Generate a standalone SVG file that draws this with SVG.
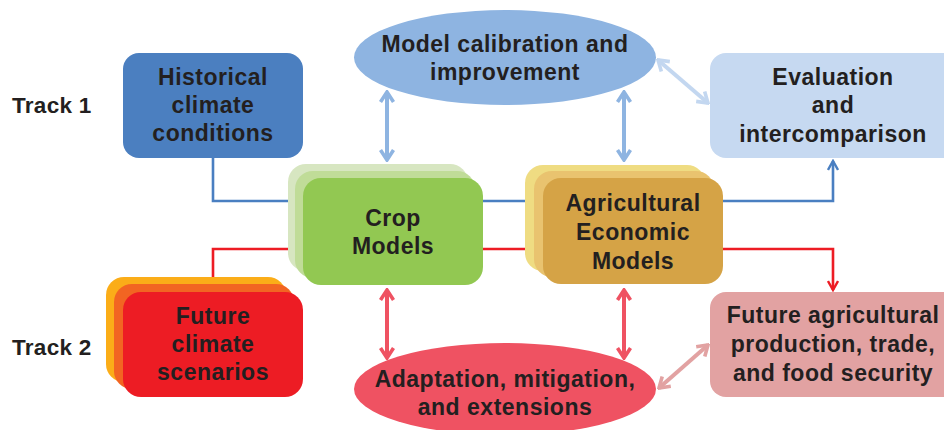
<svg xmlns="http://www.w3.org/2000/svg" width="944" height="430" viewBox="0 0 944 430">
<style>
text{font-family:"Liberation Sans",Arial,sans-serif;font-weight:bold;font-size:23px;letter-spacing:0.5px;fill:#231f20;text-anchor:middle}
.trk{text-anchor:start;font-size:22.5px;letter-spacing:0.3px}
.conn{fill:none;stroke-width:2.6}
.dbl{fill:none;stroke-width:4}
</style>
<defs>
<marker id="mBlue" viewBox="0 0 12 12" refX="10" refY="6" markerWidth="12" markerHeight="12" markerUnits="userSpaceOnUse" orient="auto-start-reverse"><path d="M1,1 L10,6 L1,11" fill="none" stroke="#4a7fc1" stroke-width="2.4"/></marker>
<marker id="mRed" viewBox="0 0 12 12" refX="10" refY="6" markerWidth="12" markerHeight="12" markerUnits="userSpaceOnUse" orient="auto-start-reverse"><path d="M1,1 L10,6 L1,11" fill="none" stroke="#ed1c24" stroke-width="2.4"/></marker>
<marker id="mLB" viewBox="0 0 14 16" refX="12" refY="8" markerWidth="14" markerHeight="16" markerUnits="userSpaceOnUse" orient="auto-start-reverse"><path d="M2,1.5 L12,8 L2,14.5" fill="none" stroke="#8eb4e1" stroke-width="3.6"/></marker>
<marker id="mLLB" viewBox="0 0 14 16" refX="12" refY="8" markerWidth="14" markerHeight="16" markerUnits="userSpaceOnUse" orient="auto-start-reverse"><path d="M2,1.5 L12,8 L2,14.5" fill="none" stroke="#c3d7f0" stroke-width="3.6"/></marker>
<marker id="mRd" viewBox="0 0 14 16" refX="12" refY="8" markerWidth="14" markerHeight="16" markerUnits="userSpaceOnUse" orient="auto-start-reverse"><path d="M2,1.5 L12,8 L2,14.5" fill="none" stroke="#ef5262" stroke-width="3.6"/></marker>
<marker id="mPk" viewBox="0 0 14 16" refX="12" refY="8" markerWidth="14" markerHeight="16" markerUnits="userSpaceOnUse" orient="auto-start-reverse"><path d="M2,1.5 L12,8 L2,14.5" fill="none" stroke="#e2a2a2" stroke-width="3.6"/></marker>
</defs>
<rect width="944" height="430" fill="#ffffff"/>

<g id="connectors">
<path class="conn" stroke="#4a7fc1" d="M213,158 V201 H300"/>
<path class="conn" stroke="#4a7fc1" d="M480,201 H530"/>
<path class="conn" stroke="#4a7fc1" d="M720,201 H833 V161" marker-end="url(#mBlue)"/>
<path class="conn" stroke="#ed1c24" d="M213,292 V249 H300"/>
<path class="conn" stroke="#ed1c24" d="M480,249 H530"/>
<path class="conn" stroke="#ed1c24" d="M720,249 H833 V290" marker-end="url(#mRed)"/>
<line class="dbl" stroke="#8eb4e1" x1="387" y1="92" x2="387" y2="160" marker-start="url(#mLB)" marker-end="url(#mLB)"/>
<line class="dbl" stroke="#8eb4e1" x1="624" y1="92" x2="624" y2="160" marker-start="url(#mLB)" marker-end="url(#mLB)"/>
<line class="dbl" stroke="#c3d7f0" x1="658" y1="60" x2="708" y2="103" marker-start="url(#mLLB)" marker-end="url(#mLLB)"/>
<line class="dbl" stroke="#ef5262" x1="387" y1="290" x2="387" y2="358" marker-start="url(#mRd)" marker-end="url(#mRd)"/>
<line class="dbl" stroke="#ef5262" x1="624" y1="290" x2="624" y2="358" marker-start="url(#mRd)" marker-end="url(#mRd)"/>
<line class="dbl" stroke="#e2a2a2" x1="659" y1="388" x2="708" y2="345" marker-start="url(#mPk)" marker-end="url(#mPk)"/>
</g>

<g id="track1"><text class="trk" x="12" y="113">Track 1</text></g>
<g id="track2"><text class="trk" x="12" y="355">Track 2</text></g>

<g id="historical">
<rect x="123" y="53" width="180" height="105" rx="16" fill="#4b7fc0"/>
<text x="213" y="85">Historical</text>
<text x="213" y="113">climate</text>
<text x="213" y="141">conditions</text>
</g>

<g id="calibration">
<ellipse cx="505" cy="57.5" rx="151" ry="47.5" fill="#8eb4e1"/>
<text x="505" y="52">Model calibration and</text>
<text x="505" y="80">improvement</text>
</g>

<g id="evaluation">
<rect x="710" y="53" width="250" height="105" rx="16" fill="#c6d9f1"/>
<text x="833" y="85">Evaluation</text>
<text x="833" y="113">and</text>
<text x="833" y="142">intercomparison</text>
</g>

<g id="crop">
<rect x="288" y="164" width="180" height="107" rx="18" fill="#d7e6c1"/>
<rect x="295" y="171" width="180" height="107" rx="18" fill="#c0dc98"/>
<rect x="303" y="178" width="180" height="107" rx="18" fill="#92c852"/>
<text x="393" y="226">Crop</text>
<text x="393" y="254">Models</text>
</g>

<g id="economic">
<rect x="525" y="165" width="180" height="106" rx="18" fill="#efdc82"/>
<rect x="534" y="171" width="180" height="106" rx="18" fill="#e9c36f"/>
<rect x="543" y="178" width="180" height="106" rx="18" fill="#d5a346"/>
<text x="633" y="211">Agricultural</text>
<text x="633" y="240">Economic</text>
<text x="633" y="269">Models</text>
</g>

<g id="future-climate">
<rect x="106" y="277" width="180" height="105" rx="18" fill="#fbad18"/>
<rect x="114" y="284" width="180" height="105" rx="18" fill="#f26522"/>
<rect x="123" y="292" width="180" height="105" rx="18" fill="#ed1c24"/>
<text x="213" y="324">Future</text>
<text x="213" y="352">climate</text>
<text x="213" y="380">scenarios</text>
</g>

<g id="adaptation">
<ellipse cx="505" cy="389" rx="151" ry="46" fill="#ef5262"/>
<text x="505" y="387">Adaptation, mitigation,</text>
<text x="505" y="415">and extensions</text>
</g>

<g id="future-ag">
<rect x="710" y="292" width="250" height="105" rx="16" fill="#e2a2a2"/>
<text x="833" y="323">Future agricultural</text>
<text x="833" y="352">production, trade,</text>
<text x="833" y="381">and food security</text>
</g>
</svg>
